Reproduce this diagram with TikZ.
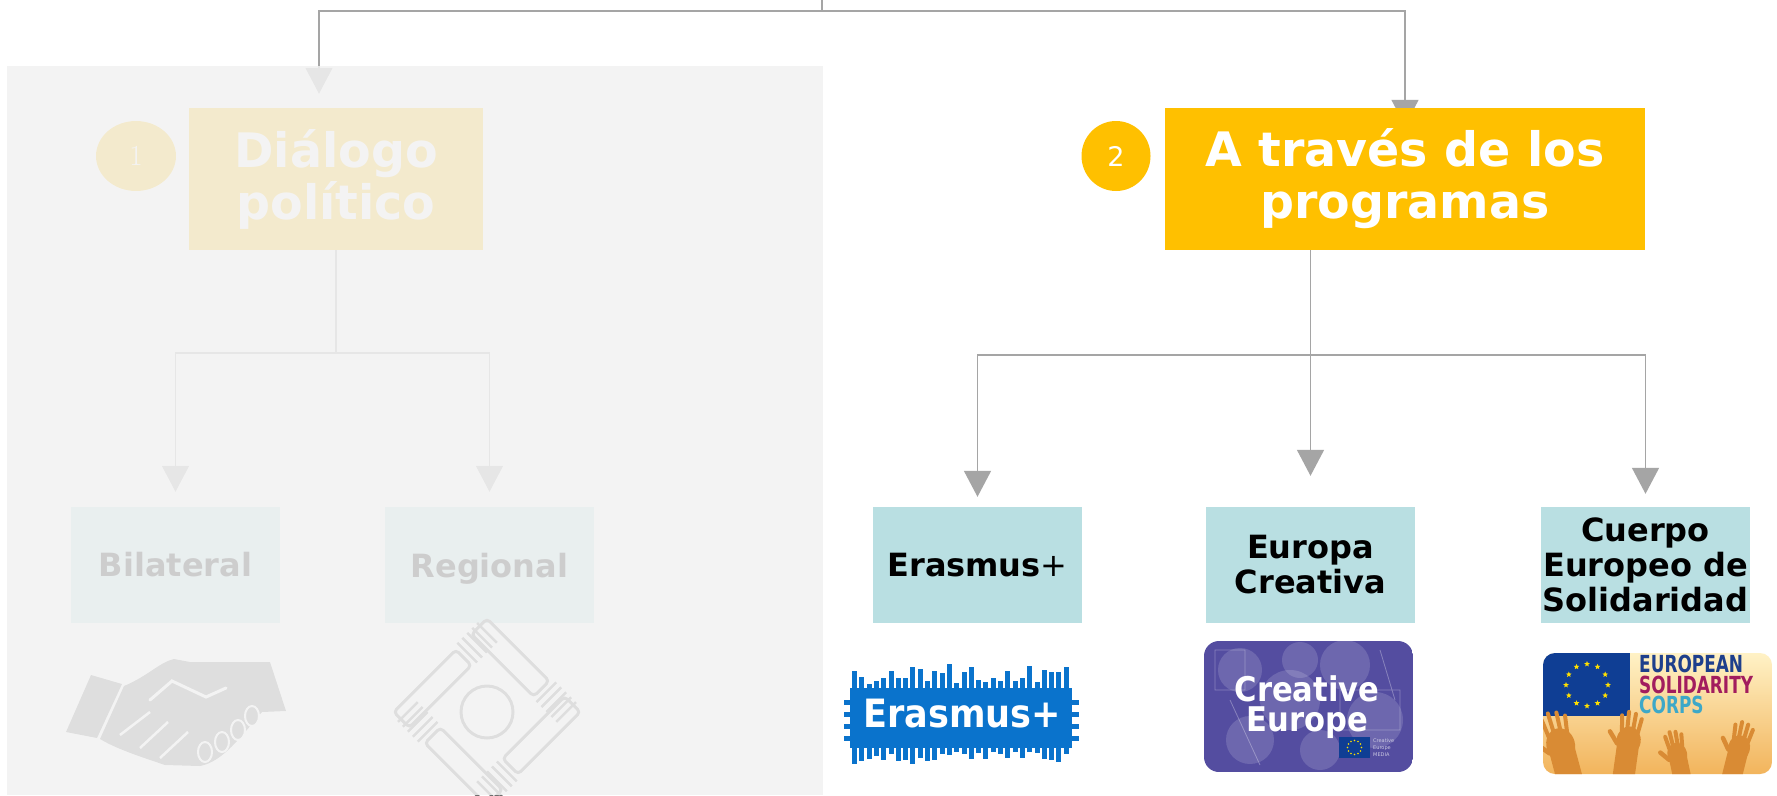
\documentclass[tikz,border=0pt]{standalone}
\usepackage{fontspec}
\usetikzlibrary{arrows.meta,shapes.geometric,backgrounds}

\definecolor{progyellow}{HTML}{FFC000}
\definecolor{progteal}{HTML}{B9DFE2}
\definecolor{linegray}{HTML}{A5A5A5}
\definecolor{paneloverlay}{HTML}{F2F2F2}
\definecolor{icongray}{HTML}{6E6E6E}
\definecolor{erasblue}{HTML}{0A73CC}
\definecolor{cepurple}{HTML}{544DA0}
\definecolor{eublue}{HTML}{0F3E94}
\definecolor{euyellow}{HTML}{FFE000}
\definecolor{esccream}{HTML}{FFF2C6}
\definecolor{escorange}{HTML}{F2B45C}
\definecolor{eschand}{HTML}{D98B34}
\definecolor{escblue}{HTML}{1E3F8C}
\definecolor{escmagenta}{HTML}{A21C5E}
\definecolor{esccyan}{HTML}{3DA8C8}

\newfontfamily\dejavu{DejaVu Sans}
\newfontfamily\condbold{DejaVu Sans Condensed Bold}
\newfontfamily\escfont[FakeStretch=0.8]{DejaVu Sans Condensed Bold}

\begin{document}
\begin{tikzpicture}[x=1pt, y=-1pt,
    wire/.style={draw=linegray, line width=1.5pt, -{Triangle[width=27pt,length=26pt]}},
    headbox/.style={fill=progyellow, text=white, align=center, inner sep=0pt, minimum height=142pt,
      font=\dejavu\bfseries\fontsize{47.5}{52}\selectfont},
    progbox/.style={fill=progteal, align=center, inner sep=0pt, minimum width=209pt, minimum height=116pt,
      font=\dejavu\bfseries\fontsize{32}{35}\selectfont},
    badge/.style={ellipse, fill=progyellow, text=white, inner sep=0pt, minimum height=70pt}]
  \useasboundingbox (0,0) rectangle (1777,795);

  % first level
  \node[headbox, minimum width=294pt] (dial) at (336,179) {Diálogo\\político};
  \node[headbox, minimum width=480pt] (prog) at (1405,179) {A través de los\\programas};
  \node[badge, minimum width=80pt, font=\fontsize{29}{29}\selectfont] (one) at (136,156) {1};
  \node[badge, minimum width=69pt, font=\dejavu\fontsize{27}{27}\selectfont] (two) at (1116,156) {2};

  % second level
  \node[progbox] (bil) at (175.5,565) {Bilateral};
  \node[progbox, text depth=0pt] (reg) at (489.5,565) {Regional};
  \node[progbox] (eras) at (977.5,565) {Erasmus{\mdseries+}};
  \node[progbox] (euro) at (1310.5,565) {Europa\\Creativa};
  \node[progbox] (cuer) at (1645.5,565) {Cuerpo\\Europeo de\\Solidaridad};

  % connectors
  \begin{scope}[on background layer]
    \fill[white] (0,0) rectangle (1777,795);
    \coordinate (top) at (822,0);
    \draw[wire, shorten >=14pt] (top) -- ++(0,11) -| ([xshift=-17pt]dial.north);
    \draw[wire, shorten >=-18pt] (top) -- ++(0,11) -| (prog.north);
    \draw[wire, shorten >=15pt] (dial.south) -- ++(0,103) -| (bil.north);
    \draw[wire, shorten >=15pt] (dial.south) -- ++(0,103) -| (reg.north);
    \draw[wire, shorten >=10pt] (euro.north |- prog.south) -- ++(0,105) -| (eras.north);
    \draw[wire, shorten >=31pt] (euro.north |- prog.south) -- (euro.north);
    \draw[wire, shorten >=13pt] (euro.north |- prog.south) -- ++(0,105) -| (cuer.north);
  \end{scope}

  % handshake
  \fill[icongray] (91,675) -- (122,684) -- (97,738) -- (66,732) -- cycle;
  \fill[icongray] (124,686) .. controls (148,676) and (160,662) .. (174,659)
    -- (190,662) -- (270,662) -- (286,711) -- (262,712)
    .. controls (240,738) and (222,762) .. (200,766) -- (165,765)
    .. controls (135,755) and (115,748) .. (100,739) -- cycle;
  \draw[white, line width=3pt, line cap=round] (150,700) -- (172,681) -- (206,697) -- (226,688);
  \draw[white, line width=2.5pt] (120,735) -- (150,712) (140,748) -- (168,722) (160,758) -- (188,732);
  \foreach \fx/\fy in {205/752, 222/742, 238/730, 252/716}
    \filldraw[fill=icongray, draw=white, line width=2pt] (\fx,\fy) ellipse (7 and 10);

  % hands in a ring
  \begin{scope}[shift={(487,712)}, rotate=45]
    \foreach \r in {0,90,180,270}{
      \begin{scope}[rotate=\r]
        \draw[icongray, line width=3pt, rounded corners=4pt] (-66,-66) rectangle (22,-44);
        \foreach \k in {0,...,4}
          \draw[icongray, line width=2.5pt] (28+\k*7,-70) -- ++(0,28);
      \end{scope}
    }
    \draw[icongray, line width=3pt] (0,0) circle (26);
  \end{scope}

  % faded panel
  \fill[paneloverlay, opacity=0.85] (7,66) rectangle (823,795);

  % Erasmus+ logo
  \fill[erasblue] (850,688) rectangle (1072,748);
  \pgfmathsetseed{11}
  \foreach \i in {0,...,29}{
    \pgfmathsetmacro\bx{852+\i*7.3}
    \pgfmathsetmacro\bt{3+22*rnd}
    \pgfmathsetmacro\bb{3+14*rnd}
    \fill[erasblue] (\bx,688) rectangle ++(5,-\bt);
    \fill[erasblue] (\bx,748) rectangle ++(5,\bb);
  }
  \foreach \ly in {700,712,724,736}{
    \fill[erasblue] (844,\ly) rectangle ++(6,5);
    \fill[erasblue] (1072,\ly) rectangle ++(7,5);
  }
  \node[text=white, font=\condbold\fontsize{39}{39}\selectfont] (erasword) at (962,714) {Erasmus+};

  % Creative Europe logo
  \begin{scope}
    \clip[rounded corners=15pt] (1204,641) rectangle (1413,772);
    \fill[cepurple] (1204,641) rectangle (1413,772);
    \foreach \cx/\cy/\cr in {1240/670/22, 1290/700/30, 1345/665/25, 1375/720/28, 1250/740/24, 1320/750/20, 1300/660/18}
      \fill[white, opacity=0.15] (\cx,\cy) circle (\cr);
    \draw[white, opacity=0.3, line width=0.8pt] (1215,650) rectangle (1245,690) (1380,650) -- (1395,700)
      (1230,700) -- (1260,765) (1340,690) rectangle (1400,730);
  \end{scope}
  \node[inner sep=0pt, text=white, align=center, font=\condbold\fontsize{34}{30}\selectfont] (ceword) at (1307,707) {Creative\\Europe};
  \fill[eublue] (1339,737) rectangle (1370,758);
  \foreach \a in {0,30,...,330}
    \fill[euyellow] ([shift={(\a:7)}]1354.5,747.5) circle (0.9);
  \node[anchor=north west, inner sep=0pt, text=white!70!cepurple, align=left,
    font=\dejavu\fontsize{5}{7}\selectfont] (cemedia) at (1373,738) {Creative\\Europe\\MEDIA};

  % European Solidarity Corps logo
  \begin{scope}
    \clip[rounded corners=12pt] (1543,653) rectangle (1772,774);
    \shade[top color=esccream, bottom color=escorange] (1543,653) rectangle (1772,774);
    \fill[eublue] (1543,653) rectangle (1630,716);
    \foreach \hx/\hy/\hr/\hs in {1562/750/15/1.3, 1628/745/-8/1.1, 1678/758/12/0.9, 1738/752/-14/1.0}{
      \begin{scope}[shift={(\hx,\hy)}, rotate=\hr, scale=\hs]
        \fill[eschand] (-10,-4) rectangle (10,40);
        \fill[eschand] (0,-4) ellipse (11 and 13);
        \foreach \f/\l in {-7/16, -2.5/20, 2.5/19, 7/15}
          \draw[eschand, line width=4pt, line cap=round] (\f,-10) -- ++(\f*0.3,-\l);
        \draw[eschand, line width=4.5pt, line cap=round] (-10,0) -- (-18,-10);
      \end{scope}
    }
  \end{scope}
  \foreach \a in {0,30,...,330}
    \node[star, star points=5, star point ratio=2.3, fill=euyellow, inner sep=0pt, minimum size=6pt]
      (star\a) at ([shift={(\a:21)}]1587,685) {};
  \node[anchor=base west, inner sep=0pt, text=escblue, font=\escfont\fontsize{23.5}{23.5}\selectfont] (escone) at (1639,672) {EUROPEAN};
  \node[anchor=base west, inner sep=0pt, text=escmagenta, font=\escfont\fontsize{23.5}{23.5}\selectfont] (esctwo) at (1639,693) {SOLIDARITY};
  \node[anchor=base west, inner sep=0pt, text=esccyan, font=\escfont\fontsize{23.5}{23.5}\selectfont] (escthree) at (1639,713) {CORPS};
\end{tikzpicture}
\end{document}
